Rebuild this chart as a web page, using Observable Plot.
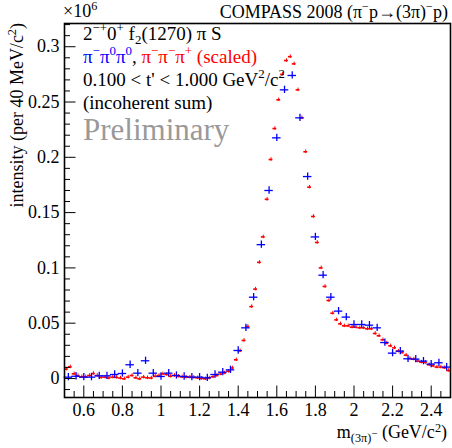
<!DOCTYPE html>
<html>
<head>
<meta charset="utf-8">
<script src="https://cdn.jsdelivr.net/npm/d3@7"></script>
<script src="https://cdn.jsdelivr.net/npm/@observablehq/plot@0.6"></script>
<style>
  html, body { margin: 0; padding: 0; background: #fff; }
  svg { display: block; }
</style>
</head>
<body>
<script>
// ---------- data ----------
const redMass = [0.51,0.53,0.55,0.57,0.59,0.61,0.63,0.65,0.67,0.69,
  0.71,0.73,0.75,0.77,0.79,0.81,0.83,0.85,0.87,0.89,
  0.91,0.93,0.95,0.97,0.99,1.01,1.03,1.05,1.07,1.09,
  1.11,1.13,1.15,1.17,1.19,1.21,1.23,1.25,1.27,1.29,
  1.31,1.33,1.35,1.37,1.39,1.41,1.43,1.45,1.47,1.49,
  1.51,1.53,1.55,1.57,1.59,1.61,1.63,1.65,1.67,1.69,
  1.71,1.73,1.75,1.77,1.79,1.81,1.83,1.85,1.87,1.89,
  1.91,1.93,1.95,1.97,1.99,2.01,2.03,2.05,2.07,2.09,
  2.11,2.13,2.15,2.17,2.19,2.21,2.23,2.25,2.27,2.29,
  2.31,2.33,2.35,2.37,2.39,2.41,2.43,2.45,2.47,2.49];
const redIntensity = [0.0085,0.0105,0.0042,0.0025,0.0015,0.0015,0.0027,0.0045,0.0027,0.0010,
  0.0012,0.0004,0.0012,0.0010,0.0004,-0.0003,0.0012,0.0027,0.0006,-0.0003,
  0.0012,0.0006,0.0004,0.0020,0.0027,0.0042,0.0036,0.0020,0.0027,0.0020,
  0.0015,0.0012,0.0012,0.0010,0.0006,0.0000,-0.0003,0.0004,0.0015,0.0027,
  0.0040,0.0050,0.0065,0.0095,0.0169,0.0250,0.0344,0.0470,0.0650,0.0808,
  0.1050,0.1280,0.1620,0.1980,0.2260,0.2520,0.2750,0.2875,0.2910,0.2845,
  0.2610,0.2357,0.2050,0.1730,0.1465,0.1230,0.1000,0.0832,0.0705,0.0590,
  0.0530,0.0494,0.0476,0.0476,0.0464,0.0464,0.0458,0.0458,0.0449,0.0449,
  0.0407,0.0386,0.0350,0.0320,0.0295,0.0277,0.0247,0.0235,0.0211,0.0181,
  0.0175,0.0157,0.0148,0.0145,0.0124,0.0115,0.0103,0.0103,0.0097,0.0072];

const blueMass = [0.52,0.56,0.60,0.64,0.68,0.72,0.76,0.80,0.84,0.88,
  0.92,0.96,1.00,1.04,1.08,1.12,1.16,1.20,1.24,1.28,
  1.32,1.36,1.40,1.44,1.48,1.52,1.56,1.60,1.64,1.68,
  1.72,1.76,1.80,1.84,1.88,1.92,1.96,2.00,2.04,2.08,
  2.12,2.16,2.20,2.24,2.28,2.32,2.36,2.40,2.44,2.48];
const blueIntensity = [0.0012,0.0020,0.0012,0.0012,0.0024,0.0024,0.0036,0.0045,0.0124,0.0048,
  0.0160,0.0048,0.0018,0.0048,0.0027,0.0018,0.0012,0.0012,0.0006,0.0036,
  0.0057,0.0078,0.0253,0.0458,0.0735,0.1210,0.1700,0.2176,0.2610,0.2740,
  0.2357,0.1826,0.1280,0.0934,0.0735,0.0609,0.0555,0.0488,0.0488,0.0482,
  0.0458,0.0325,0.0229,0.0247,0.0178,0.0175,0.0157,0.0130,0.0142,0.0103];

const xMajorTicks = [0.6,0.8,1.0,1.2,1.4,1.6,1.8,2.0,2.2,2.4];
const xTickLabels = ["0.6","0.8","1","1.2","1.4","1.6","1.8","2","2.2","2.4"];
const yMajorTicks = [0,0.05,0.1,0.15,0.2,0.25,0.3];
const yTickLabels = ["0","0.05","0.1","0.15","0.2","0.25","0.3"];

// ---------- layout ----------
const W = 452, H = 448;
const mL = 64, mR = 2, mT = 23, mB = 51;
const pw = W - mL - mR, ph = H - mT - mB;
const FONT = "'Liberation Serif', 'Times New Roman', serif";
const blueHalfBin = 0.022, redHalfBin = 0.010;
const blueErr = 0.0033, redErr = 0.0016;

const red = redMass.map((m, i) => ({m, v: redIntensity[i]}));
const blue = blueMass.map((m, i) => ({m, v: blueIntensity[i]}));
const xMinor = d3.range(0.55, 2.5, 0.05).filter(t => !xMajorTicks.some(M => Math.abs(M - t) < 1e-6));
const yMinor = d3.range(-0.01, 0.3205, 0.01).filter(t => !yMajorTicks.some(M => Math.abs(M - t) < 1e-6));

const svg = Plot.plot({
  width: W, height: H,
  marginLeft: mL, marginRight: mR, marginTop: mT, marginBottom: mB,
  style: {fontFamily: FONT, fontSize: "18px", background: "#fff", color: "#000"},
  x: {domain: [0.5, 2.5], label: null},
  y: {domain: [-0.0172, 0.321], label: null},
  marks: [
    // red (pi- pi- pi+, scaled)
    Plot.ruleY(red, {y: "v", x1: d => d.m - redHalfBin, x2: d => d.m + redHalfBin, stroke: "#ff0000", strokeWidth: 1.6}),
    Plot.ruleX(red, {x: "m", y1: d => d.v - redErr, y2: d => d.v + redErr, stroke: "#ff0000", strokeWidth: 1}),
    // blue (pi- pi0 pi0)
    Plot.ruleY(blue, {y: "v", x1: d => d.m - blueHalfBin, x2: d => d.m + blueHalfBin, stroke: "#0000ff", strokeWidth: 1.3}),
    Plot.ruleX(blue, {x: "m", y1: d => d.v - blueErr, y2: d => d.v + blueErr, stroke: "#0000ff", strokeWidth: 1.3}),
    // inward ticks
    Plot.tickX(xMajorTicks, {x: d => d, insetTop: ph - 11.5, stroke: "#000", strokeWidth: 1}),
    Plot.tickX(xMinor, {x: d => d, insetTop: ph - 6, stroke: "#000", strokeWidth: 1}),
    Plot.tickY(yMajorTicks, {y: d => d, insetRight: pw - 11.5, stroke: "#000", strokeWidth: 1}),
    Plot.tickY(yMinor, {y: d => d, insetRight: pw - 6, stroke: "#000", strokeWidth: 1}),
    Plot.axisX({ticks: xMajorTicks, tickSize: 0, tickPadding: 6, fontSize: 18,
      tickFormat: d => xTickLabels[xMajorTicks.indexOf(d)]}),
    Plot.axisY({ticks: yMajorTicks, tickSize: 0, tickPadding: 5, fontSize: 18,
      tickFormat: d => yTickLabels[yMajorTicks.indexOf(d)]}),
    Plot.frame({stroke: "#000", strokeWidth: 1.6})
  ]
});
document.body.appendChild(svg);

// ---------- rich text (super/subscripts) ----------
const root = d3.select(svg);
function rich(x, y, size, parts, opts = {}) {
  const t = root.append("text")
    .attr("x", x).attr("y", y)
    .attr("font-family", FONT).attr("font-size", size)
    .attr("fill", opts.fill || "#000")
    .attr("text-anchor", opts.anchor || "start");
  if (opts.transform) t.attr("transform", opts.transform).attr("x", 0).attr("y", 0);
  const supOff = opts.supOff != null ? opts.supOff : 0.40;
  let cur = 0;
  for (const p of parts) {
    const [s, kind, fill] = p;
    let off = 0, scale = 1;
    if (kind === "sup") { off = -supOff * size; scale = 0.68; }
    else if (kind === "sub") { off = 0.22 * size; scale = 0.68; }
    else if (kind === "subsup") { off = -0.05 * size; scale = 0.6; }
    const ts = t.append("tspan").text(s).attr("dy", off - cur);
    if (scale !== 1) ts.attr("font-size", size * scale);
    if (fill) ts.attr("fill", fill);
    cur = off;
  }
  return t;
}
const BLUE = "#0000ff", RED = "#ff0000";

rich(63, 17, 18, [["×10"], ["6", "sup"]]);
rich(448, 18, 18, [["COMPASS 2008 (π"], ["−", "sup"], ["p→(3π)"], ["−", "sup"], ["p)"]], {anchor: "end"});

rich(83, 40, 19, [["2"], ["−+", "sup"], ["0"], ["+", "sup"], [" f"], ["2", "sub"], ["(1270) π S"]]);
rich(83, 63, 19, [["π", "", BLUE], ["−", "sup", BLUE], ["π", "", BLUE], ["0", "sup", BLUE], ["π", "", BLUE], ["0", "sup", BLUE],
  [", "], ["π", "", RED], ["−", "sup", RED], ["π", "", RED], ["−", "sup", RED], ["π", "", RED], ["+", "sup", RED], [" (scaled)", "", RED]]);
rich(83, 86, 19, [["0.100 < t' < 1.000 GeV"], ["2", "sup"], ["/c"], ["2", "sup"]]);
rich(83, 109, 19, [["(incoherent sum)"]]);
rich(83, 140, 31, [["Preliminary"]], {fill: "#999999"});

// axis titles
rich(0, 0, 18, [["intensity (per 40 MeV/c"], ["2", "sup"], [")"]], {anchor: "end", transform: "translate(23,23) rotate(-90)"});
rich(447, 438, 18, [["m"], ["(3π)", "sub"], ["−", "subsup"], [" (GeV/c"], ["2", "sup"], [")"]], {anchor: "end", supOff: 0.34});
</script>
</body>
</html>
